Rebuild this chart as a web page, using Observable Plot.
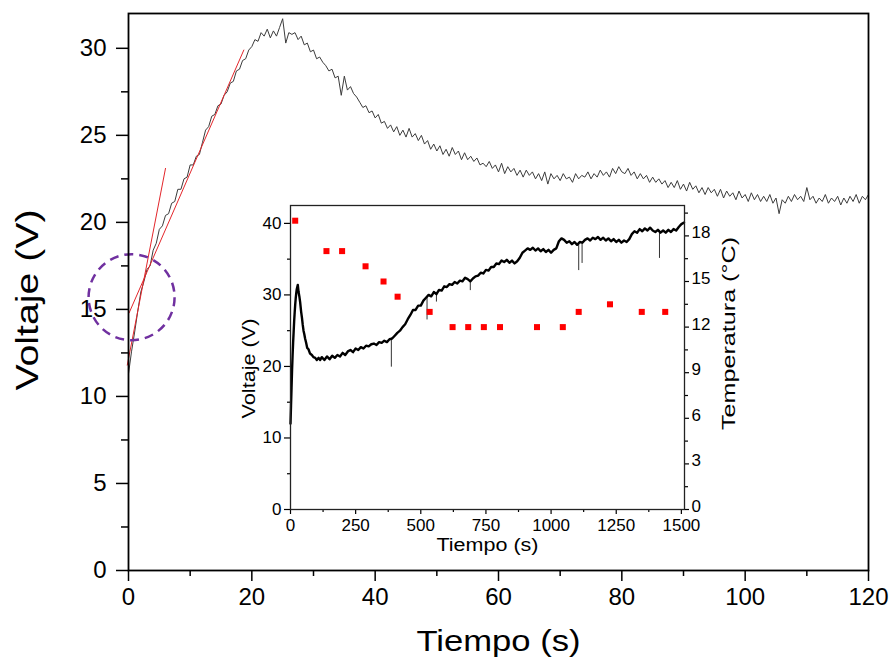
<!DOCTYPE html>
<html><head><meta charset="utf-8">
<script src="https://cdn.jsdelivr.net/npm/d3@7"></script>
<script src="https://cdn.jsdelivr.net/npm/@observablehq/plot@0.6"></script>
<style>
body{margin:0;background:#fff;}
#wrap{position:relative;width:895px;height:670px;overflow:hidden;background:#fff;}
#wrap > div{position:absolute;}
</style></head><body>
<div id="wrap"><div id="main" style="left:0;top:0"></div><div id="inV" style="left:230px;top:195px"></div><div id="inT" style="left:230px;top:195px"></div></div>
<script>
const FONT = '"Liberation Sans", Arial, sans-serif';

// ---- Main chart: Voltaje vs Tiempo (0–120 s), sampled every 0.5 s ----
const mainStep = 0.5;
const mainV = [
  11.3,12.6,13.7,14.9,16.0,16.6,17.3,17.5,18.4,18.8,
  19.6,19.8,20.4,20.5,21.1,21.2,21.9,21.9,22.5,22.6,
  23.3,23.3,23.8,23.9,24.6,25.3,25.5,26.1,26.2,26.7,
  26.8,27.3,27.5,28.0,28.1,28.7,28.8,29.3,29.4,29.9,
  30.1,30.5,30.4,30.9,30.7,31.1,30.6,31.0,30.7,31.2,
  31.7,30.3,30.9,30.8,30.9,30.5,30.7,30.2,30.3,29.8,
  29.9,29.4,29.5,29.2,29.0,28.7,28.8,28.3,28.4,27.3,
  28.4,27.6,27.8,27.4,27.2,26.9,26.6,26.7,26.3,26.4,
  26.0,26.2,25.7,25.8,25.4,25.6,25.2,25.5,25.0,25.3,
  24.9,25.4,24.9,25.1,24.7,25.0,24.5,24.7,24.2,24.5,
  24.1,24.4,23.9,24.2,23.8,24.3,23.9,24.1,23.6,24.0,
  23.6,23.8,23.5,23.7,23.3,23.4,23.2,23.5,23.1,23.3,
  22.9,23.4,22.8,23.2,22.9,23.1,22.7,23.0,22.6,23.0,
  22.7,22.9,22.5,22.8,22.4,22.9,22.2,22.8,22.5,22.7,
  22.4,22.8,22.5,22.6,22.3,22.8,22.5,22.7,22.6,22.9,
  22.5,22.8,22.6,23.0,22.7,22.9,22.6,23.1,22.8,23.2,
  22.9,22.8,23.1,22.7,22.9,22.5,22.8,22.5,22.7,22.3,
  22.6,22.3,22.5,22.2,22.4,22.0,22.3,22.0,22.4,21.9,
  22.2,21.8,22.3,21.9,22.1,21.7,22.0,21.6,22.0,21.7,
  21.9,21.5,21.9,21.4,21.8,21.5,21.7,21.3,21.8,21.4,
  21.6,21.2,21.7,21.3,21.6,21.2,21.5,21.2,21.6,21.1,
  21.4,20.5,21.3,21.1,21.5,21.2,21.6,21.3,21.5,21.2,
  22.0,21.3,21.5,21.1,21.4,21.2,21.6,21.1,21.4,21.2,
  21.5,21.0,21.4,21.1,21.5,21.2,21.6,21.1,21.5,21.3,
  21.6
];
const mainT = mainV.map((_, i) => i * mainStep);

// red tangent lines
const tan1T = [-0.2, 6.0];
const tan1V = [11.8, 23.1];
const tan2T = [0.1, 18.7];
const tan2V = [14.8, 29.9];

// purple dashed circle (centre)
const circleT = [0.5];
const circleV = [15.7];

const xMajor = [0, 20, 40, 60, 80, 100, 120];
const xMinor = [10, 30, 50, 70, 90, 110];
const yMajor = [0, 5, 10, 15, 20, 25, 30];
const yMinor = [2.5, 7.5, 12.5, 17.5, 22.5, 27.5];

// ---- Inset: Voltaje vs Tiempo (0–1500 s) ----
const insetEarlyT = [0,2,4,6,8,10,12,14,16,18,20,22,24,26,28,31,34,37,41,44,47,50,53,56,60,64,69,75,82,88,95,101,108,114];
const insetEarlyV = [12.0,14.5,17.0,19.5,21.5,23.3,24.8,26.3,27.5,28.6,29.5,30.2,30.8,31.1,31.4,30.4,29.8,29.0,27.6,26.8,25.8,25.0,24.5,23.9,23.3,22.6,22.4,21.8,21.6,21.3,21.2,20.9,21.2,20.9];
const insetLateStart = 120, insetLateStep = 10;
const insetLateV = [
  21.3,20.9,21.4,21.0,21.5,21.2,21.6,21.4,21.9,21.6,
  22.1,22.3,22.0,22.5,22.3,22.7,22.5,22.9,22.8,23.1,
  23.2,23.0,23.4,23.3,23.6,23.4,23.8,23.9,24.3,24.7,
  25.0,25.5,25.9,26.6,27.2,27.9,27.9,28.5,28.5,29.2,
  29.6,30.0,29.8,30.4,30.1,30.7,30.6,31.2,31.1,31.5,
  31.4,31.8,31.6,32.0,31.9,32.4,32.2,31.9,32.3,32.6,
  32.7,33.1,33.0,33.5,33.4,33.9,33.9,34.4,34.3,34.8,
  34.6,34.9,34.5,34.8,34.4,34.7,35.2,35.9,36.2,36.5,
  36.3,36.6,36.2,36.5,36.1,36.4,36.0,36.3,35.9,36.3,
  36.5,37.5,37.9,37.7,37.3,37.5,37.1,37.4,37.0,37.4,
  37.3,37.7,37.9,37.6,38.0,37.8,38.1,37.7,38.0,37.6,
  37.9,37.5,37.8,37.4,37.7,37.3,37.6,37.4,37.8,38.5,
  38.9,38.7,39.2,38.9,39.3,39.0,39.4,39.0,38.8,39.1,
  38.7,39.0,38.7,39.1,38.8,39.2,39.0,39.5,39.9,40.1
];
const insetT = insetEarlyT.concat(insetLateV.map((_, i) => insetLateStart + i * insetLateStep));
const insetV = insetEarlyV.concat(insetLateV);

// downward glitches in the inset trace
const spikeT = [387, 524, 560, 690, 1106, 1119, 1416];
const spikeTop = [24.0, 29.7, 30.3, 32.0, 37.2, 37.4, 39.0];
const spikeBottom = [19.9, 26.5, 29.0, 30.6, 33.4, 34.4, 35.1];

// temperature (right axis)
const tempT = [18, 138, 198, 288, 357, 411, 534, 622, 682, 742, 804, 946, 1045, 1106, 1226, 1348, 1438];
const tempV = [19, 17, 17, 16, 15, 14, 13, 12, 12, 12, 12, 12, 12, 13, 13.5, 13, 13];

const inXMajor = [0, 250, 500, 750, 1000, 1250, 1500];
const inXMinor = [125, 375, 625, 875, 1125, 1375];
const inYMajor = [0, 10, 20, 30, 40];
const inYMinor = [5, 15, 25, 35];
const inTMajor = [0, 3, 6, 9, 12, 15, 18];
const inTMinor = [1.5, 4.5, 7.5, 10.5, 13.5, 16.5, 19.5];

const xTitle = "Tiempo (s)";
const yTitle = "Voltaje (V)";
const tTitle = "Temperatura (°C)";

function stretch(svg, txt, len) {
  d3.select(svg).selectAll("text")
    .filter(function () { return this.textContent === txt; })
    .attr("textLength", len).attr("lengthAdjust", "spacingAndGlyphs");
}

const blank = () => "";
const plain = d => String(d);

const main = Plot.plot({
  width: 895, height: 670,
  marginLeft: 128, marginRight: 27, marginTop: 13, marginBottom: 100,
  style: {fontFamily: FONT, fontSize: "24px", color: "black", background: "transparent"},
  x: {domain: [0, 120]},
  y: {domain: [0, 32]},
  marks: [
    Plot.axisX(xMajor, {tickSize: 11, tickPadding: 6, strokeWidth: 1.5, tickFormat: plain, label: null}),
    Plot.axisX(xMinor, {tickSize: 6, tickFormat: blank, strokeWidth: 1.5, label: null}),
    Plot.axisY(yMajor, {tickSize: 12, tickPadding: 10, strokeWidth: 1.5, tickFormat: plain, label: null}),
    Plot.axisY(yMinor, {tickSize: 7, tickFormat: blank, strokeWidth: 1.5, label: null}),
    Plot.line(mainV, {x: (d, i) => mainT[i], y: d => d, stroke: "#3c3c3c", strokeWidth: 1}),
    Plot.line(tan1T, {x: d => d, y: (d, i) => tan1V[i], stroke: "#e3262b", strokeWidth: 1}),
    Plot.line(tan2T, {x: d => d, y: (d, i) => tan2V[i], stroke: "#e3262b", strokeWidth: 1}),
    Plot.dot(circleT, {x: d => d, y: (d, i) => circleV[i], r: 43, fill: "none", stroke: "#7030a0", strokeWidth: 2.5, strokeDasharray: "9,6"}),
    Plot.frame({stroke: "black", strokeWidth: 1.8}),
    Plot.text([xTitle], {text: d => d, frameAnchor: "bottom", textAnchor: "middle", dy: 80, fontSize: 30}),
    Plot.text([yTitle], {text: d => d, frameAnchor: "left", textAnchor: "middle", dx: -100, dy: 8, rotate: -90, fontSize: 31})
  ]
});
stretch(main, xTitle, 164);
stretch(main, yTitle, 181);
document.getElementById("main").appendChild(main);

const inV = Plot.plot({
  width: 520, height: 370,
  marginLeft: 60, marginRight: 66, marginTop: 10, marginBottom: 56,
  style: {fontFamily: FONT, fontSize: "17px", color: "black", background: "transparent"},
  x: {domain: [0, 1512]},
  y: {domain: [0, 42.5]},
  marks: [
    Plot.frame({fill: "white", stroke: "none"}),
    Plot.axisX(inXMajor, {tickSize: 5, tickPadding: 4, strokeWidth: 1.2, tickFormat: plain, label: null}),
    Plot.axisX(inXMinor, {tickSize: 3, tickFormat: blank, strokeWidth: 1.2, label: null}),
    Plot.axisY(inYMajor, {tickSize: 6, tickPadding: 3, strokeWidth: 1.2, tickFormat: plain, label: null}),
    Plot.axisY(inYMinor, {tickSize: 3, tickFormat: blank, strokeWidth: 1.2, label: null}),
    Plot.ruleX(spikeT, {x: d => d, y1: (d, i) => spikeTop[i], y2: (d, i) => spikeBottom[i], stroke: "#333", strokeWidth: 1}),
    Plot.line(insetV, {x: (d, i) => insetT[i], y: d => d, stroke: "black", strokeWidth: 2.4}),
    Plot.frame({stroke: "#222", strokeWidth: 1.3}),
    Plot.text([xTitle], {text: d => d, frameAnchor: "bottom", textAnchor: "middle", dy: 41, fontSize: 18}),
    Plot.text([yTitle], {text: d => d, frameAnchor: "left", textAnchor: "middle", dx: -42, dy: 11, rotate: -90, fontSize: 19})
  ]
});
stretch(inV, xTitle, 102);
stretch(inV, yTitle, 100);
document.getElementById("inV").appendChild(inV);

const inT = Plot.plot({
  width: 520, height: 370,
  marginLeft: 60, marginRight: 66, marginTop: 10, marginBottom: 56,
  style: {fontFamily: FONT, fontSize: "17px", color: "black", background: "transparent"},
  x: {domain: [0, 1512], axis: null},
  y: {domain: [0, 20]},
  marks: [
    Plot.axisY(inTMajor, {anchor: "right", tickSize: 4, tickFormat: blank, strokeWidth: 1.2, label: null}),
    Plot.axisY(inTMinor, {anchor: "right", tickSize: 3, tickFormat: blank, strokeWidth: 1.2, label: null}),
    Plot.text(inTMajor, {y: d => d, text: plain, frameAnchor: "right", textAnchor: "start", dx: 7, dy: -3, fontSize: 17}),
    Plot.dot(tempV, {x: (d, i) => tempT[i], y: d => d, symbol: "square", r: 3.4, fill: "#ff0000"}),
    Plot.text([tTitle], {text: d => d, frameAnchor: "right", textAnchor: "middle", dx: 45, dy: -24, rotate: -90, fontSize: 18})
  ]
});
stretch(inT, tTitle, 193);
document.getElementById("inT").appendChild(inT);
</script>
</body></html>
